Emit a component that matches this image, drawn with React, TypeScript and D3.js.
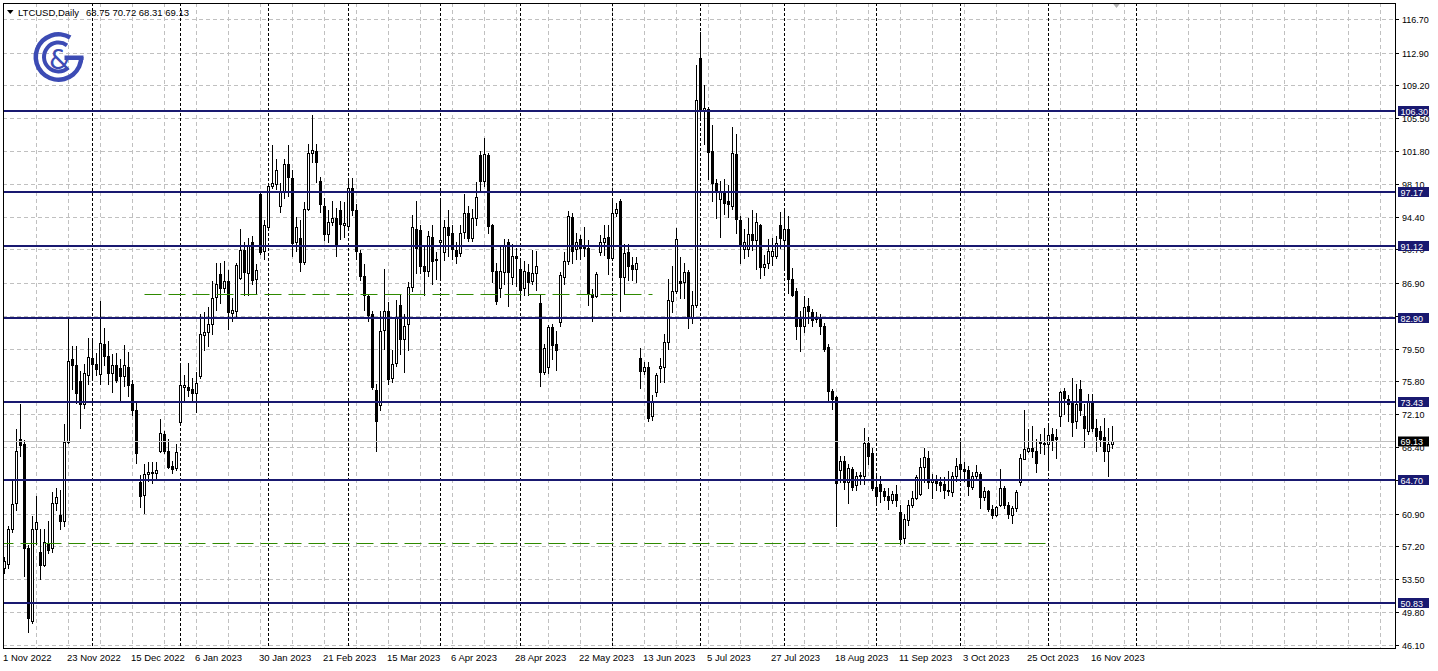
import React from "react";
import * as d3 from "d3";

// ---------- data ----------
const SYMBOL = "LTCUSD,Daily";
const FIRST_BAR = "2022-11-01";

const opens: number[] = [
  54.7, 55.2, 59.2, 62.1, 69.3, 68.7, 57.0, 48.8, 59.2, 56.6,
  55.1, 57.6, 57.0, 62.1, 60.7, 60.1, 69.0, 78.3, 77.7, 75.8,
  73.2, 76.5, 78.4, 77.8, 76.6, 80.0, 78.7, 76.7, 77.6, 77.3,
  76.4, 77.4, 75.5, 72.6, 64.4, 63.0, 65.4, 65.6, 65.5, 68.0,
  69.9, 68.0, 66.3, 66.0, 71.2, 75.2, 75.2, 74.9, 74.5, 76.4,
  81.0, 81.4, 82.3, 85.3, 87.9, 86.3, 87.1, 83.5, 83.8, 87.5,
  90.6, 88.0, 91.5, 87.3, 96.9, 90.5, 93.2, 97.9, 98.1, 95.6,
  97.3, 100.3, 98.8, 91.5, 92.0, 89.3, 95.3, 101.6, 101.8, 98.4,
  95.6, 92.4, 93.8, 94.2, 95.1, 93.4, 93.3, 97.6, 95.1, 90.3,
  87.7, 85.4, 83.4, 74.8, 73.1, 81.6, 83.8, 76.2, 77.9, 84.4,
  80.6, 82.3, 86.4, 93.0, 92.9, 88.8, 88.3, 92.1, 89.6, 91.5,
  90.4, 93.2, 92.5, 90.6, 90.3, 92.7, 94.8, 92.0, 94.2, 101.3,
  98.4, 101.3, 93.4, 88.3, 86.3, 88.2, 91.5, 87.6, 90.0, 88.5,
  86.3, 88.2, 87.1, 88.0, 84.6, 76.9, 77.4, 81.9, 80.0, 82.5,
  87.6, 89.4, 94.4, 90.7, 91.9, 91.0, 90.8, 85.7, 85.4, 90.4,
  91.5, 92.1, 89.7, 94.8, 96.1, 87.6, 90.4, 88.9, 88.5, 78.4,
  77.0, 77.4, 71.9, 74.6, 77.3, 77.4, 80.2, 84.9, 86.0, 87.1,
  87.0, 88.2, 83.0, 84.4, 112.3, 106.4, 106.5, 101.8, 98.2, 96.4,
  97.2, 96.1, 95.6, 101.5, 94.0, 90.7, 90.7, 92.4, 91.8, 93.4,
  88.7, 89.2, 90.0, 90.0, 93.5, 91.8, 93.0, 87.4, 86.0, 82.9,
  82.0, 84.3, 83.6, 82.8, 83.0, 82.1, 79.7, 74.7, 74.0, 65.8,
  66.8, 64.4, 65.9, 64.1, 65.1, 65.1, 68.8, 67.7, 63.9, 64.2,
  63.4, 62.9, 62.4, 63.1, 61.1, 58.1, 60.2, 61.9, 62.7, 63.1,
  66.2, 67.2, 64.4, 64.6, 64.4, 64.2, 63.4, 63.3, 65.1, 66.5,
  65.9, 65.8, 63.9, 65.1, 65.4, 62.8, 63.4, 61.4, 60.7, 61.9,
  63.8, 61.9, 60.7, 61.5, 64.5, 67.1, 68.0, 68.3, 68.0, 69.1,
  68.9, 68.7, 69.9, 69.5, 71.9, 74.7, 73.8, 73.4, 71.3, 75.0,
  71.9, 70.2, 73.6, 70.6, 70.2, 69.5, 67.9, 68.75,
];

const highs: number[] = [
  56.0, 59.5, 64.6, 70.4, 73.2, 69.2, 57.3, 60.6, 62.9, 59.1,
  59.1, 60.0, 63.3, 63.8, 63.6, 71.0, 83.0, 79.8, 79.8, 77.0,
  77.8, 80.7, 80.6, 79.0, 84.9, 81.8, 80.4, 78.9, 79.0, 78.3,
  79.9, 79.1, 76.0, 73.5, 65.3, 66.5, 66.7, 66.7, 66.7, 71.6,
  70.2, 69.3, 66.8, 68.7, 77.9, 76.5, 77.9, 76.2, 76.9, 83.4,
  83.6, 84.2, 87.1, 89.2, 89.2, 89.4, 88.4, 85.2, 89.2, 93.0,
  91.5, 92.0, 92.2, 89.0, 97.1, 94.0, 98.2, 102.5, 100.9, 98.2,
  100.9, 102.5, 99.6, 94.3, 94.0, 96.0, 102.6, 105.8, 102.6, 98.9,
  96.5, 95.1, 96.2, 95.4, 96.2, 96.0, 98.6, 98.8, 95.8, 90.6,
  89.0, 85.6, 83.7, 75.5, 83.7, 88.5, 84.8, 79.4, 85.0, 85.6,
  83.4, 87.0, 94.6, 96.2, 93.5, 91.0, 92.8, 93.4, 90.4, 96.2,
  94.0, 95.1, 93.4, 91.5, 93.4, 97.0, 95.6, 95.3, 98.3, 101.8,
  103.3, 101.6, 93.6, 89.2, 91.1, 91.9, 91.9, 91.3, 90.9, 89.4,
  89.4, 89.0, 90.6, 90.5, 85.5, 80.0, 82.2, 82.3, 81.5, 88.1,
  90.4, 95.0, 94.8, 92.5, 92.3, 93.2, 91.8, 86.2, 88.1, 92.3,
  93.4, 93.4, 96.2, 95.9, 96.4, 91.3, 91.3, 89.8, 89.8, 79.6,
  78.0, 78.0, 74.3, 76.8, 78.4, 81.2, 87.3, 88.8, 93.1, 89.8,
  89.2, 88.4, 86.0, 111.5, 115.2, 109.2, 106.8, 104.7, 98.6, 98.4,
  98.6, 98.0, 104.5, 103.7, 94.5, 93.0, 94.2, 95.1, 94.8, 93.6,
  90.1, 91.9, 92.0, 92.2, 94.9, 95.0, 94.5, 88.6, 86.3, 83.8,
  85.4, 85.2, 84.0, 83.6, 83.4, 82.4, 80.0, 75.0, 74.2, 67.4,
  67.4, 66.5, 66.1, 65.6, 65.6, 70.6, 69.5, 68.3, 65.4, 65.1,
  63.8, 63.8, 63.4, 64.1, 61.9, 60.8, 62.4, 63.4, 65.3, 67.2,
  68.3, 67.9, 65.4, 65.2, 65.0, 65.0, 65.7, 65.6, 67.2, 69.1,
  66.7, 66.3, 65.6, 66.4, 65.6, 63.9, 63.6, 61.9, 61.8, 65.9,
  64.0, 62.2, 61.8, 63.6, 67.6, 72.6, 70.4, 70.8, 69.3, 69.9,
  70.5, 70.8, 70.6, 70.4, 74.7, 75.1, 74.3, 76.2, 75.5, 76.0,
  73.2, 74.4, 74.4, 71.6, 70.8, 71.7, 70.5, 70.72,
];

const lows: number[] = [
  54.2, 54.8, 58.8, 61.3, 67.4, 53.8, 47.5, 48.5, 57.5, 53.5,
  55.0, 56.5, 56.6, 61.3, 59.1, 59.5, 68.8, 75.0, 73.4, 70.5,
  72.8, 75.5, 76.0, 76.5, 75.5, 77.7, 75.5, 74.6, 75.7, 73.6,
  75.3, 74.2, 72.0, 66.6, 61.6, 61.0, 64.6, 64.3, 64.9, 67.8,
  67.7, 66.0, 65.5, 65.8, 71.0, 73.6, 74.2, 73.6, 72.3, 76.2,
  79.4, 79.8, 81.1, 83.9, 84.7, 85.9, 81.7, 82.6, 83.0, 87.3,
  85.6, 85.6, 86.8, 85.8, 90.2, 89.6, 93.0, 97.6, 97.5, 94.9,
  96.5, 96.7, 90.0, 90.5, 88.3, 89.0, 95.1, 100.5, 98.3, 94.9,
  91.7, 91.5, 93.4, 90.0, 91.9, 92.1, 93.1, 94.6, 89.6, 87.2,
  83.9, 82.6, 74.9, 67.9, 72.6, 79.5, 75.5, 75.7, 77.5, 78.9,
  76.9, 79.4, 86.0, 88.0, 88.0, 85.6, 87.7, 86.8, 87.3, 87.5,
  89.5, 89.9, 89.6, 89.2, 89.9, 92.0, 91.6, 91.6, 93.5, 97.3,
  97.9, 92.5, 87.0, 84.5, 85.3, 86.8, 84.3, 86.8, 86.6, 85.2,
  85.6, 85.5, 86.8, 86.1, 75.3, 76.6, 76.7, 78.3, 77.1, 82.1,
  86.8, 89.0, 89.2, 89.6, 89.6, 89.9, 84.4, 82.6, 85.3, 90.1,
  90.1, 87.9, 89.5, 94.5, 83.7, 85.7, 87.2, 87.2, 87.0, 75.1,
  76.6, 71.3, 71.5, 74.2, 75.7, 75.7, 79.5, 83.6, 85.8, 85.2,
  85.2, 81.8, 82.4, 84.2, 105.6, 102.6, 98.6, 96.2, 94.2, 92.1,
  94.7, 94.4, 95.2, 92.6, 89.2, 89.7, 90.0, 90.6, 88.5, 87.5,
  87.8, 88.6, 88.9, 89.7, 90.9, 88.5, 85.8, 85.4, 80.6, 79.2,
  81.4, 82.4, 82.0, 82.5, 81.1, 79.2, 73.6, 72.7, 59.5, 64.4,
  63.7, 62.1, 63.6, 63.5, 64.2, 64.2, 66.5, 63.5, 61.9, 62.2,
  62.4, 61.4, 62.1, 61.8, 57.5, 57.6, 59.6, 61.6, 62.5, 63.0,
  64.5, 63.8, 62.6, 63.6, 63.4, 62.7, 63.0, 62.9, 64.6, 64.6,
  64.6, 63.0, 63.7, 64.7, 61.5, 62.4, 61.2, 60.4, 60.6, 61.7,
  61.5, 60.4, 59.8, 61.2, 64.1, 67.0, 67.8, 67.3, 65.6, 67.7,
  67.6, 66.2, 68.1, 67.2, 70.8, 72.1, 71.3, 69.6, 70.6, 72.0,
  68.4, 69.9, 70.2, 68.0, 68.5, 66.8, 65.1, 68.31,
];

const closes: number[] = [
  55.6, 59.1, 62.0, 68.0, 68.6, 57.0, 49.1, 59.1, 59.9, 55.1,
  57.7, 56.8, 62.1, 62.8, 60.1, 69.0, 78.1, 77.6, 74.5, 73.2,
  76.7, 78.6, 77.8, 77.2, 80.1, 78.7, 76.7, 77.6, 76.0, 76.4,
  77.6, 75.4, 72.6, 67.7, 62.9, 65.4, 65.6, 65.5, 65.8, 70.0,
  68.0, 66.2, 65.9, 67.8, 75.4, 75.4, 74.8, 74.5, 75.6, 81.1,
  81.4, 82.3, 85.2, 86.8, 86.3, 87.1, 83.6, 83.9, 88.9, 90.6,
  88.1, 91.2, 87.2, 88.4, 90.4, 93.4, 97.9, 98.2, 99.6, 97.3,
  100.3, 98.9, 91.4, 93.2, 89.3, 95.3, 101.6, 101.9, 100.6, 95.8,
  92.4, 93.8, 94.2, 91.2, 93.6, 93.7, 97.6, 95.1, 90.5, 87.7,
  85.5, 83.3, 75.2, 71.3, 81.5, 83.7, 76.1, 77.8, 82.9, 80.6,
  82.0, 86.4, 93.2, 90.8, 88.8, 88.3, 92.2, 89.4, 89.5, 91.7,
  93.2, 92.3, 90.7, 90.0, 92.6, 94.8, 92.0, 94.2, 96.6, 98.4,
  101.5, 93.3, 88.3, 84.9, 88.3, 91.2, 88.1, 90.0, 89.7, 86.1,
  88.3, 87.0, 88.0, 88.8, 76.9, 79.6, 81.9, 79.9, 79.4, 87.8,
  89.4, 94.5, 90.5, 91.5, 90.9, 90.9, 85.8, 85.3, 87.9, 91.5,
  92.0, 89.7, 94.8, 95.2, 87.6, 90.3, 88.8, 88.5, 89.2, 77.0,
  77.4, 71.7, 73.6, 76.5, 77.5, 80.2, 85.0, 86.0, 91.9, 86.9,
  88.2, 83.0, 84.4, 107.6, 106.5, 106.6, 101.7, 98.2, 97.2, 97.2,
  95.9, 95.8, 101.6, 94.1, 91.2, 91.5, 92.4, 91.8, 93.8, 88.7,
  89.1, 90.5, 90.5, 91.4, 92.0, 93.0, 87.3, 85.6, 82.0, 82.0,
  84.2, 83.7, 82.7, 83.0, 82.0, 79.5, 74.7, 73.8, 64.3, 66.8,
  64.4, 66.0, 63.9, 65.1, 65.2, 68.8, 67.4, 63.8, 62.9, 63.4,
  62.9, 62.4, 63.1, 62.4, 58.0, 60.3, 61.9, 62.7, 65.0, 66.2,
  67.3, 64.4, 64.7, 64.3, 64.1, 63.5, 63.6, 65.1, 66.3, 65.9,
  65.7, 64.0, 65.1, 65.6, 62.8, 63.4, 61.4, 60.7, 61.6, 63.8,
  61.9, 60.8, 61.5, 63.3, 67.2, 68.2, 68.3, 68.0, 66.6, 68.8,
  68.7, 69.8, 69.2, 69.3, 74.6, 73.9, 73.3, 71.2, 73.2, 72.6,
  70.6, 73.6, 70.6, 69.6, 69.3, 67.9, 68.7, 69.13,
];

const levelLines: number[] = [106.3, 97.17, 91.12, 82.9, 73.43, 64.7, 50.83];
const levelLabels: string[] = ["106.30", "97.17", "91.12", "82.90", "73.43", "64.70", "50.83"];
const priceTicks: number[] = [
  116.7, 112.9, 109.2, 105.5, 101.8, 98.1, 94.4, 90.7, 86.9, 83.2,
  79.5, 75.8, 72.1, 68.4, 64.7, 60.9, 57.2, 53.5, 49.8, 46.1,
];
const bidPrice = 69.13;
const trendPrices: number[] = [85.66, 57.58];
const trendFromBar: number[] = [35, -2];
const trendToBar: number[] = [162, 262];

// ---------- layout ----------
const W = 1438;
const H = 671;
const P = { left: 3, top: 3, right: 1395, bottom: 648 };
const FONT = "'Liberation Sans', Arial, sans-serif";
const NAVY = "#191970";
const GREEN = "#2f8a00";
const LOGO = "#3c4bb4";

function weekdays(start: string, count: number): Date[] {
  const out: Date[] = [];
  const d = new Date(start + "T00:00:00");
  while (out.length < count) {
    const wd = d.getDay();
    if (wd !== 0 && wd !== 6) out.push(new Date(d.getTime()));
    d.setDate(d.getDate() + 1);
  }
  return out;
}

export default function App() {
  const n = closes.length;
  const x = d3.scaleLinear().domain([0, 1]).range([4.5, 8.5]);
  const y = d3.scaleLinear().domain([45.73, 118.49]).range([P.bottom, P.top]);
  const dates = weekdays(FIRST_BAR, n + 40);
  const fmt = d3.timeFormat("%-d %b %Y");
  const labelIdx = d3.range(0, n, 16);
  const gridIdx = d3.range(8, 400, 8).filter((i) => x(i) < P.right);
  const sepIdx = d3
    .range(1, n + 10)
    .filter((i) => dates[i].getMonth() !== dates[i - 1].getMonth());
  const ry = (p: number) => Math.round(y(p));

  const arc = d3.arc();
  const deg = Math.PI / 180;
  const outerRing = arc({ innerRadius: 20.5, outerRadius: 25, startAngle: 90 * deg, endAngle: 391 * deg } as any) as string;
  const innerRing = arc({ innerRadius: 12.5, outerRadius: 16.5, startAngle: 138 * deg, endAngle: 396 * deg } as any) as string;

  const candles = d3.range(n).map((i) => {
    const o = opens[i], h = highs[i], l = lows[i], c = closes[i];
    const cx = x(i);
    const yT = ry(Math.max(o, c));
    const yB = ry(Math.min(o, c));
    const bull = c >= o;
    return (
      <g key={i}>
        <line x1={cx} x2={cx} y1={ry(h)} y2={ry(l) + 1} stroke="#000" strokeWidth={1} />
        {yB - yT < 2 ? (
          <rect x={cx - 1.5} y={yT} width={3} height={Math.max(1, yB - yT + 1)} fill="#000" />
        ) : bull ? (
          <rect x={cx - 1} y={yT + 0.5} width={2} height={yB - yT} fill="#fff" stroke="#000" strokeWidth={1} />
        ) : (
          <rect x={cx - 1.5} y={yT} width={3} height={yB - yT + 1} fill="#000" />
        )}
      </g>
    );
  });

  return (
    <svg
      width={W}
      height={H}
      style={{ position: "absolute", left: 0, top: 0, display: "block", background: "#fff" }}
      fontFamily={FONT}
    >
      <defs>
        <clipPath id="plotClip">
          <rect x={P.left} y={P.top} width={P.right - P.left} height={P.bottom - P.top} />
        </clipPath>
      </defs>
      <rect x={0} y={0} width={W} height={H} fill="#fff" />

      <g clipPath="url(#plotClip)">
        {/* horizontal grid */}
        {priceTicks.map((t) => (
          <line key={"hg" + t} x1={P.left} x2={P.right} y1={ry(t) + 0.5} y2={ry(t) + 0.5}
            stroke="#c0c0c0" strokeWidth={1} strokeDasharray="4,3" />
        ))}
        {/* vertical grid */}
        {gridIdx.map((i) => (
          <line key={"vg" + i} x1={x(i)} x2={x(i)} y1={P.top} y2={P.bottom}
            stroke="#c0c0c0" strokeWidth={1} strokeDasharray="4,3" />
        ))}
        {/* month separators */}
        {sepIdx.map((i) => (
          <line key={"sep" + i} x1={x(i)} x2={x(i)} y1={P.top} y2={P.bottom}
            stroke="#000" strokeWidth={1} strokeDasharray="3,2" />
        ))}

        {candles}

        {/* bid line */}
        <line x1={P.left} x2={P.right} y1={ry(bidPrice) + 0.5} y2={ry(bidPrice) + 0.5} stroke="#c0c0c0" strokeWidth={1} />

        {/* horizontal levels */}
        {levelLines.map((p) => (
          <line key={"lv" + p} x1={P.left} x2={P.right} y1={ry(p)} y2={ry(p)} stroke={NAVY} strokeWidth={2} />
        ))}

        {/* dashed green trend levels */}
        {trendPrices.map((p, k) => (
          <line key={"tr" + k} x1={x(trendFromBar[k])} x2={x(trendToBar[k])} y1={ry(p) + 0.5} y2={ry(p) + 0.5}
            stroke={GREEN} strokeWidth={1} strokeDasharray="17,7" />
        ))}

        {/* logo */}
        <g transform="translate(58.5,57)" fill={LOGO}>
          <path d={outerRing} />
          <path d={innerRing} />
          <rect x={6} y={-1.5} width={19} height={4.5} />
        </g>
        <text x={59.5} y={69} fontSize={27} fontFamily="'DejaVu Sans', sans-serif" fill={LOGO} textAnchor="middle">&amp;</text>

        {/* header */}
        <path d="M7,10 L13.5,10 L10.25,14 Z" fill="#000" />
        <text x={18} y={15.5} fontSize={9.5} fill="#000">{SYMBOL}</text>
        <text x={86} y={15.5} fontSize={9.5} fill="#000">
          {[opens[n - 1], highs[n - 1], lows[n - 1], closes[n - 1]].map((v) => v.toFixed(2)).join(" ")}
        </text>

        {/* shift marker */}
        <path d={`M${x(n - 1) + 0},3 L${x(n - 1) + 8},3 L${x(n - 1) + 4},8 Z`} fill="#b0b0b0" />
      </g>

      {/* frame */}
      <rect x={P.left + 0.5} y={P.top + 0.5} width={P.right - P.left} height={P.bottom - P.top}
        fill="none" stroke="#000" strokeWidth={1} />

      {/* price axis */}
      {priceTicks.map((t) => (
        <g key={"pt" + t}>
          <line x1={P.right + 1} x2={P.right + 4} y1={ry(t) + 0.5} y2={ry(t) + 0.5} stroke="#000" />
          <text x={1402} y={ry(t) + 3.5} fontSize={9} fill="#000">{t.toFixed(2)}</text>
        </g>
      ))}
      {levelLines.map((p, k) => (
        <g key={"lb" + p}>
          <rect x={1398} y={ry(p) - 5} width={31} height={10} fill={NAVY} />
          <text x={1400.5} y={ry(p) + 3.5} fontSize={9} fill="#fff">{levelLabels[k]}</text>
        </g>
      ))}
      <rect x={1398} y={ry(bidPrice) - 4.5} width={31} height={10} fill="#000" />
      <text x={1400.5} y={ry(bidPrice) + 4} fontSize={9} fill="#fff">{bidPrice.toFixed(2)}</text>

      {/* time axis */}
      {labelIdx.map((i) => (
        <text key={"tl" + i} x={x(i) - 1.5} y={661} fontSize={9.5} fill="#000">{fmt(dates[i])}</text>
      ))}
    </svg>
  );
}
